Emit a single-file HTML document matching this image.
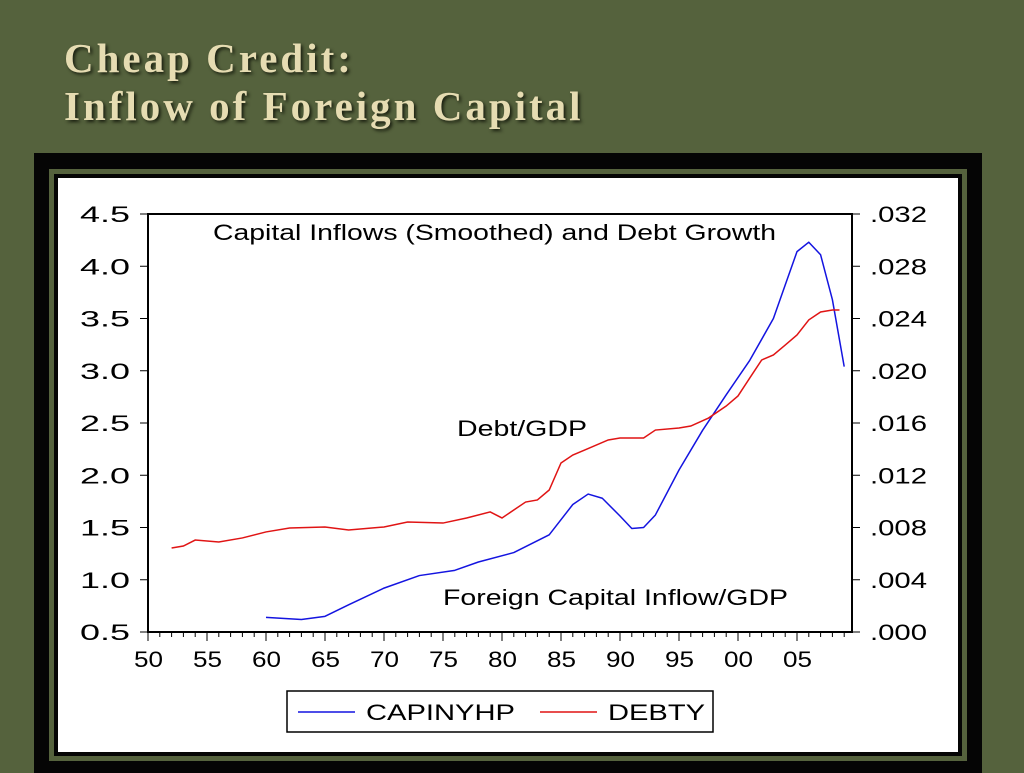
<!DOCTYPE html>
<html><head><meta charset="utf-8"><style>
body{margin:0;width:1024px;height:768px;background:#55623d;overflow:hidden;position:relative;font-family:"Liberation Sans",sans-serif}
.t{position:absolute;left:64px;font-family:"Liberation Serif",serif;font-size:41px;color:#e6dcb2;letter-spacing:3px;text-shadow:2px 2px 3px #1a1f10;font-weight:bold;white-space:nowrap}
</style></head><body>
<div class="t" style="top:34px">Cheap Credit:</div>
<div class="t" style="top:82px">Inflow of Foreign Capital</div>
<div style="position:absolute;left:34px;top:153px;width:948px;height:620px;background:#050505"></div>
<div style="position:absolute;left:49px;top:169px;width:918px;height:592px;background:#55623d"></div>
<div style="position:absolute;left:54px;top:174px;width:908px;height:582px;background:#050505"></div>
<svg width="1024" height="768" style="position:absolute;left:0;top:0">
<rect x="58" y="178" width="900" height="574" fill="#fff"/>
<g id="g"></g>
</svg>
<script>
const years=[1950,1955,1960,1965,1970,1975,1980,1985,1990,1995,2000,2005];
const yearLabels=["50","55","60","65","70","75","80","85","90","95","00","05"];
const leftTicks=[0.5,1.0,1.5,2.0,2.5,3.0,3.5,4.0,4.5];
const leftLabels=["0.5","1.0","1.5","2.0","2.5","3.0","3.5","4.0","4.5"];
const rightTicks=[0,0.004,0.008,0.012,0.016,0.020,0.024,0.028,0.032];
const rightLabels=[".000",".004",".008",".012",".016",".020",".024",".028",".032"];
const capYears=[1960,1963,1965,1967,1970,1973,1976,1978,1981,1984,1986,1987.3,1988.5,1990,1991,1992,1993,1995,1997,1999,2001,2003,2004,2005,2006,2007,2008,2009];
const capVals=[0.64,0.62,0.65,0.76,0.92,1.04,1.09,1.17,1.26,1.43,1.72,1.82,1.78,1.61,1.49,1.50,1.62,2.05,2.43,2.77,3.10,3.50,3.82,4.14,4.23,4.11,3.68,3.04];
const debtYears=[1952,1953,1954,1956,1958,1960,1962,1965,1967,1970,1972,1975,1977,1979,1980,1981,1982,1983,1984,1985,1986,1987,1989,1990,1992,1993,1995,1996,1997.5,1999,2000,2001,2002,2003,2004,2005,2006,2007,2008,2008.6];
const debtVals=[.00643,.00658,.00704,.00689,.0072,.00766,.00796,.00804,.00781,.00804,.00842,.00834,.00873,.00919,.00873,.00934,.00995,.01011,.01087,.01294,.01355,.01393,.0147,.01485,.01485,.01546,.01562,.01577,.01638,.0173,.01807,.01945,.02082,.02121,.02197,.02274,.02389,.0245,.02465,.02465];
const X0=148,X1=852,Y0=214,Y1=632;
const xs=y=>X0+(y-1950)*11.8;
const yl=v=>Y1-(v-0.5)/4*(Y1-Y0);
const yr=v=>Y1-v/0.032*(Y1-Y0);
const g=document.getElementById('g');const NS='http://www.w3.org/2000/svg';
function mk(t,a,txt){const e=document.createElementNS(NS,t);for(const k in a)e.setAttribute(k,a[k]);if(txt)e.textContent=txt;g.appendChild(e);return e;}
const TA={'font-size':22,lengthAdjust:'spacingAndGlyphs'};
function tx(a,txt){return mk('text',Object.assign({},TA,a),txt);}
let e=mk('rect',{x:X0,y:Y0,width:X1-X0,height:Y1-Y0,fill:'none',stroke:'#000','stroke-width':2});


leftTicks.forEach((v,i)=>{const y=yl(v);mk('line',{x1:X0-8,x2:X0,y1:y,y2:y,stroke:'#000'});
let t=tx({x:80,y:y+8,textLength:50},leftLabels[i]);

});
rightTicks.forEach((v,i)=>{const y=yr(v);mk('line',{x1:X1,x2:X1+8,y1:y,y2:y,stroke:'#000'});
let t=tx({x:870,y:y+8,textLength:57},rightLabels[i]);

});
for(let yy=1950;yy<=2009;yy++){const x=xs(yy);mk('line',{x1:x,x2:x,y1:Y1,y2:Y1+(yy%5?5:9),stroke:'#000'});}
years.forEach((yy,i)=>{let t=tx({x:xs(yy)-14,y:Y1+35,textLength:29},yearLabels[i]);

});
let p=mk('polyline',{points:capYears.map((y,i)=>xs(y)+','+yl(capVals[i])).join(' '),fill:'none',stroke:'#1414e0','stroke-width':1.5,'stroke-linejoin':'round'});


p=mk('polyline',{points:debtYears.map((y,i)=>xs(y)+','+yr(debtVals[i])).join(' '),fill:'none',stroke:'#e01414','stroke-width':1.5});


let a=tx({x:213,y:240,textLength:563},'Capital Inflows (Smoothed) and Debt Growth');


a=tx({x:457,y:436,textLength:130},'Debt/GDP');


a=tx({x:443,y:605,textLength:345},'Foreign Capital Inflow/GDP');


let lg=mk('rect',{x:287,y:691,width:426,height:41,fill:'#fff',stroke:'#000','stroke-width':1.5});


mk('line',{x1:298,x2:355,y1:712,y2:712,stroke:'#1414e0','stroke-width':1.5});
a=tx({x:366,y:720,textLength:149},'CAPINYHP');


mk('line',{x1:540,x2:597,y1:712,y2:712,stroke:'#e01414','stroke-width':1.5});
a=tx({x:608,y:720,textLength:97},'DEBTY');


</script>
</body></html>
